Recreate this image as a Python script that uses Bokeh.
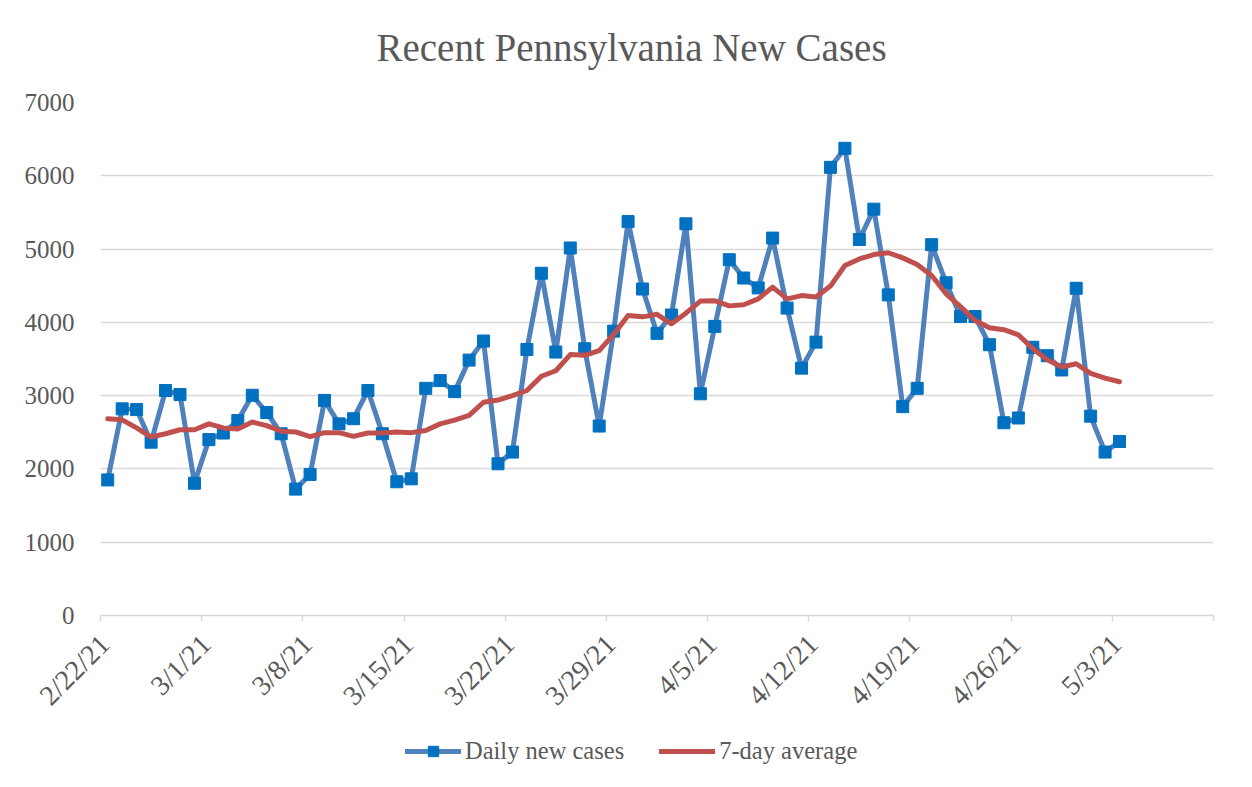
import pandas as pd
from bokeh.plotting import figure
from bokeh.layouts import column
from bokeh.models import (Range1d, FixedTicker, Legend, LegendItem, ColumnDataSource,
                          DatetimeAxis, Label)
from bokeh.embed import file_html
from bokeh.resources import INLINE

title_text = "Recent Pennsylvania New Cases"
start_date = "2021-02-22"
series_names = ["Daily new cases", "7-day average"]

daily_new_cases = [1850, 2820, 2810, 2365, 3070, 3015, 1805, 2400, 2490, 2660,
                   3005, 2770, 2480, 1725, 1925, 2935, 2615, 2685, 3070, 2480,
                   1825, 1865, 3100, 3205, 3055, 3485, 3745, 2070, 2230, 3630,
                   4670, 3595, 5015, 3640, 2585, 3880, 5375, 4455, 3850, 4100,
                   5345, 3025, 3945, 4855, 4605, 4470, 5150, 4195, 3375, 3730,
                   6115, 6375, 5130, 5545, 4375, 2850, 3100, 5060, 4540, 4080,
                   4080, 3695, 2630, 2695, 3660, 3545, 3350, 4465, 2720, 2230, 2375]

seven_day_average = [2685, 2670, 2560, 2435, 2480, 2535, 2535, 2615, 2560, 2545,
                     2640, 2590, 2515, 2505, 2440, 2495, 2495, 2445, 2490, 2490,
                     2505, 2495, 2525, 2615, 2665, 2730, 2910, 2940, 3000, 3070,
                     3265, 3340, 3560, 3550, 3615, 3835, 4095, 4075, 4110, 3980,
                     4125, 4290, 4295, 4225, 4240, 4320, 4480, 4320, 4365, 4345,
                     4495, 4775, 4865, 4925, 4950, 4880, 4790, 4640, 4390, 4215,
                     4025, 3925, 3900, 3830, 3640, 3490, 3390, 3435, 3305, 3240, 3190]

tick_labels = ["2/22/21", "3/1/21", "3/8/21", "3/15/21", "3/22/21", "3/29/21",
               "4/5/21", "4/12/21", "4/19/21", "4/26/21", "5/3/21", ""]
y_ticks = [0, 1000, 2000, 3000, 4000, 5000, 6000, 7000]

FONT = "Liberation Serif"
TXT = "#595959"
GRID = "#d9d9d9"
BLUE_LINE = "#4f81bd"
BLUE_MARK = "#0070c0"
RED = "#c0504d"

start = pd.Timestamp(start_date)
dates = [start + pd.Timedelta(days=i) for i in range(len(daily_new_cases))]
# Excel date axis: points sit in the middle of each day slot
xs = [d + pd.Timedelta(hours=12) for d in dates]
tick_dates = [start + pd.Timedelta(days=7 * i) for i in range(len(tick_labels))]
epoch = pd.Timestamp("1970-01-01")
tick_ms = [float((t - epoch).total_seconds() * 1000.0) for t in tick_dates]
# rotated labels sit a little to the right of their tick in the original
label_ms = [t + 7 * 3600 * 1000.0 for t in tick_ms]

src = ColumnDataSource(dict(x=xs, daily=daily_new_cases, avg=seven_day_average))

W = 1244


def strip(height):
    f = figure(width=W, height=height, output_backend="svg", toolbar_location=None,
               x_range=Range1d(0, 1), y_range=Range1d(0, 1),
               x_axis_location=None, y_axis_location=None,
               min_border_left=0, min_border_right=0, min_border_top=0, min_border_bottom=0)
    f.outline_line_color = None
    f.xgrid.grid_line_color = None
    f.ygrid.grid_line_color = None
    return f


# title strip (its frame is aligned with the chart frame by the column layout)
tf = strip(90)
tf.add_layout(Label(x=531, y=43, x_units="screen", y_units="screen", text=title_text,
                    text_align="center", text_baseline="alphabetic",
                    text_font=FONT, text_font_size="39px", text_color=TXT))

p = figure(width=W, height=645, output_backend="svg", toolbar_location=None,
           x_axis_type="datetime",
           x_range=Range1d(tick_ms[0], tick_ms[-1]), y_range=Range1d(0, 7000),
           min_border_left=100, min_border_right=31, min_border_top=12, min_border_bottom=120)
p.outline_line_color = None
p.background_fill_color = "white"
p.border_fill_color = "white"

# main x axis: line + tick marks only
p.xaxis.ticker = FixedTicker(ticks=tick_ms)
p.xaxis.major_label_text_font_size = "0px"
p.xaxis.major_label_text_color = None
p.xaxis.major_label_standoff = 0
p.xaxis.axis_line_color = GRID
p.xaxis.axis_line_width = 1.5
p.xaxis.major_tick_line_color = GRID
p.xaxis.major_tick_line_width = 1.5
p.xaxis.major_tick_out = 6
p.xaxis.major_tick_in = 0
p.xaxis.minor_tick_line_color = None

# label axis: rotated date labels
lab_axis = DatetimeAxis(ticker=FixedTicker(ticks=label_ms),
                        major_label_overrides={t: lab for t, lab in zip(label_ms, tick_labels)},
                        major_label_orientation=0.785398,
                        axis_line_color=None, major_tick_line_color=None, minor_tick_line_color=None,
                        major_label_text_font=FONT, major_label_text_font_size="28px",
                        major_label_text_color=TXT, major_label_standoff=12)
p.add_layout(lab_axis, "below")

p.yaxis.ticker = FixedTicker(ticks=y_ticks)
p.yaxis.axis_line_color = None
p.yaxis.major_tick_line_color = None
p.yaxis.minor_tick_line_color = None
p.yaxis.major_label_text_font = FONT
p.yaxis.major_label_text_font_size = "25px"
p.yaxis.major_label_text_color = TXT
p.yaxis.major_label_standoff = 20

p.xgrid.grid_line_color = None
p.ygrid.grid_line_color = GRID
p.ygrid.grid_line_width = 1.5

# series
l1 = p.line("x", "daily", source=src, line_color=BLUE_LINE, line_width=5, line_join="round", line_cap="round")
s1 = p.scatter("x", "daily", source=src, marker="square", size=12, fill_color=BLUE_MARK, line_color=BLUE_MARK)
l2 = p.line("x", "avg", source=src, line_color=RED, line_width=5, line_join="round", line_cap="round")

# legend strip below the chart: proxy renderers with the same styles, nothing plotted
lf = strip(44)
proxy = ColumnDataSource(dict(x=[float("nan")], y=[float("nan")]))
g1 = lf.line("x", "y", source=proxy, line_color=BLUE_LINE, line_width=5, line_cap="round")
g2 = lf.scatter("x", "y", source=proxy, marker="square", size=12, fill_color=BLUE_MARK, line_color=BLUE_MARK)
g3 = lf.line("x", "y", source=proxy, line_color=RED, line_width=5, line_cap="round")

legend = Legend(items=[LegendItem(label=series_names[0], renderers=[g1, g2]),
                       LegendItem(label=series_names[1], renderers=[g3])],
                orientation="horizontal", location=(305, 14),
                glyph_width=56, glyph_height=26, label_standoff=4, spacing=35,
                padding=0, margin=0, border_line_color=None, background_fill_alpha=0,
                label_text_font=FONT, label_text_font_size="24.5px", label_text_color=TXT)
lf.add_layout(legend, "center")

layout = column(tf, p, lf, spacing=0)
open("out.html", "w").write(file_html(layout, INLINE))
